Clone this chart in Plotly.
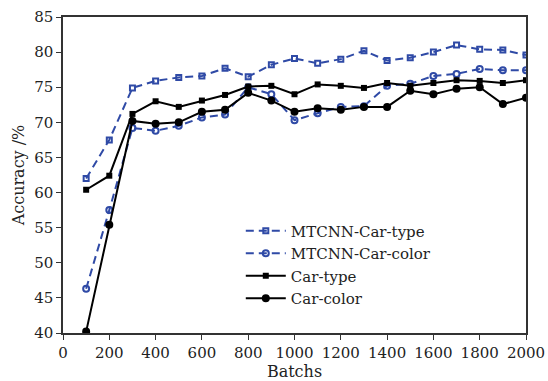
import plotly.graph_objects as go

batches = [100, 200, 300, 400, 500, 600, 700, 800, 900, 1000, 1100, 1200, 1300, 1400, 1500, 1600, 1700, 1800, 1900, 2000]
mtcnn_type = [62.0, 67.5, 74.9, 75.9, 76.4, 76.6, 77.7, 76.5, 78.2, 79.1, 78.4, 79.0, 80.2, 78.8, 79.2, 80.0, 81.0, 80.4, 80.3, 79.6]
mtcnn_color = [46.3, 57.5, 69.2, 68.8, 69.5, 70.7, 71.1, 75.0, 74.0, 70.3, 71.3, 72.2, 72.3, 75.2, 75.5, 76.6, 76.9, 77.6, 77.4, 77.4]
car_type = [60.4, 62.4, 71.2, 73.0, 72.2, 73.1, 73.9, 75.1, 75.2, 74.0, 75.4, 75.2, 74.9, 75.6, 75.2, 75.6, 76.0, 75.9, 75.6, 76.0]
car_color = [40.2, 55.4, 70.2, 69.8, 70.0, 71.5, 71.8, 74.2, 73.1, 71.5, 72.0, 71.8, 72.2, 72.2, 74.5, 74.0, 74.8, 75.0, 72.6, 73.5]
x_ticks = list(range(0, 2001, 200))
y_ticks = list(range(40, 86, 5))

blue = "#2F4AA6"
font = "DejaVu Serif, serif"

fig = go.Figure()
fig.add_trace(go.Scatter(x=batches, y=mtcnn_type, name="MTCNN-Car-type", mode="lines+markers",
                         line=dict(color=blue, width=2, dash="8px,5px"),
                         marker=dict(symbol="square-open", size=5, color=blue, line=dict(width=2, color=blue))))
fig.add_trace(go.Scatter(x=batches, y=mtcnn_color, name="MTCNN-Car-color", mode="lines+markers",
                         line=dict(color=blue, width=2, dash="8px,5px"),
                         marker=dict(symbol="circle-open", size=6, color=blue, line=dict(width=2, color=blue))))
fig.add_trace(go.Scatter(x=batches, y=car_type, name="Car-type", mode="lines+markers",
                         line=dict(color="black", width=2),
                         marker=dict(symbol="square", size=6, color="black")))
fig.add_trace(go.Scatter(x=batches, y=car_color, name="Car-color", mode="lines+markers",
                         line=dict(color="black", width=2),
                         marker=dict(symbol="circle", size=8, color="black")))

fig.update_layout(
    width=548, height=381,
    margin=dict(l=63, r=22, t=17, b=48, autoexpand=False),
    paper_bgcolor="white", plot_bgcolor="white",
    font=dict(family=font, size=15, color="#222222"),
    showlegend=True,
    legend=dict(x=0.384, y=0.375, xanchor="left", yanchor="top", bgcolor="rgba(0,0,0,0)",
                font=dict(family=font, size=15), tracegroupgap=0, itemwidth=40),
    xaxis=dict(range=[0, 2000], tickvals=x_ticks, ticks="outside", ticklen=5, tickcolor="#333",
               showline=True, linecolor="#333", linewidth=1.5, mirror=True, showgrid=False, zeroline=False,
               tickfont=dict(size=15), automargin=False,
               title=dict(text="Batchs", font=dict(family=font, size=16), standoff=4)),
    yaxis=dict(range=[40, 85], tickvals=y_ticks, ticks="outside", ticklen=5, tickcolor="#333",
               showline=True, linecolor="#333", linewidth=1.5, mirror=True, showgrid=False, zeroline=False,
               tickfont=dict(size=15), automargin=False,
               title=dict(text="Accuracy /%", font=dict(family=font, size=16), standoff=6)),
)

fig.write_html("out.html", config={"displayModeBar": False},
               post_script="document.body.style.margin='0';document.body.style.overflow='hidden';")
